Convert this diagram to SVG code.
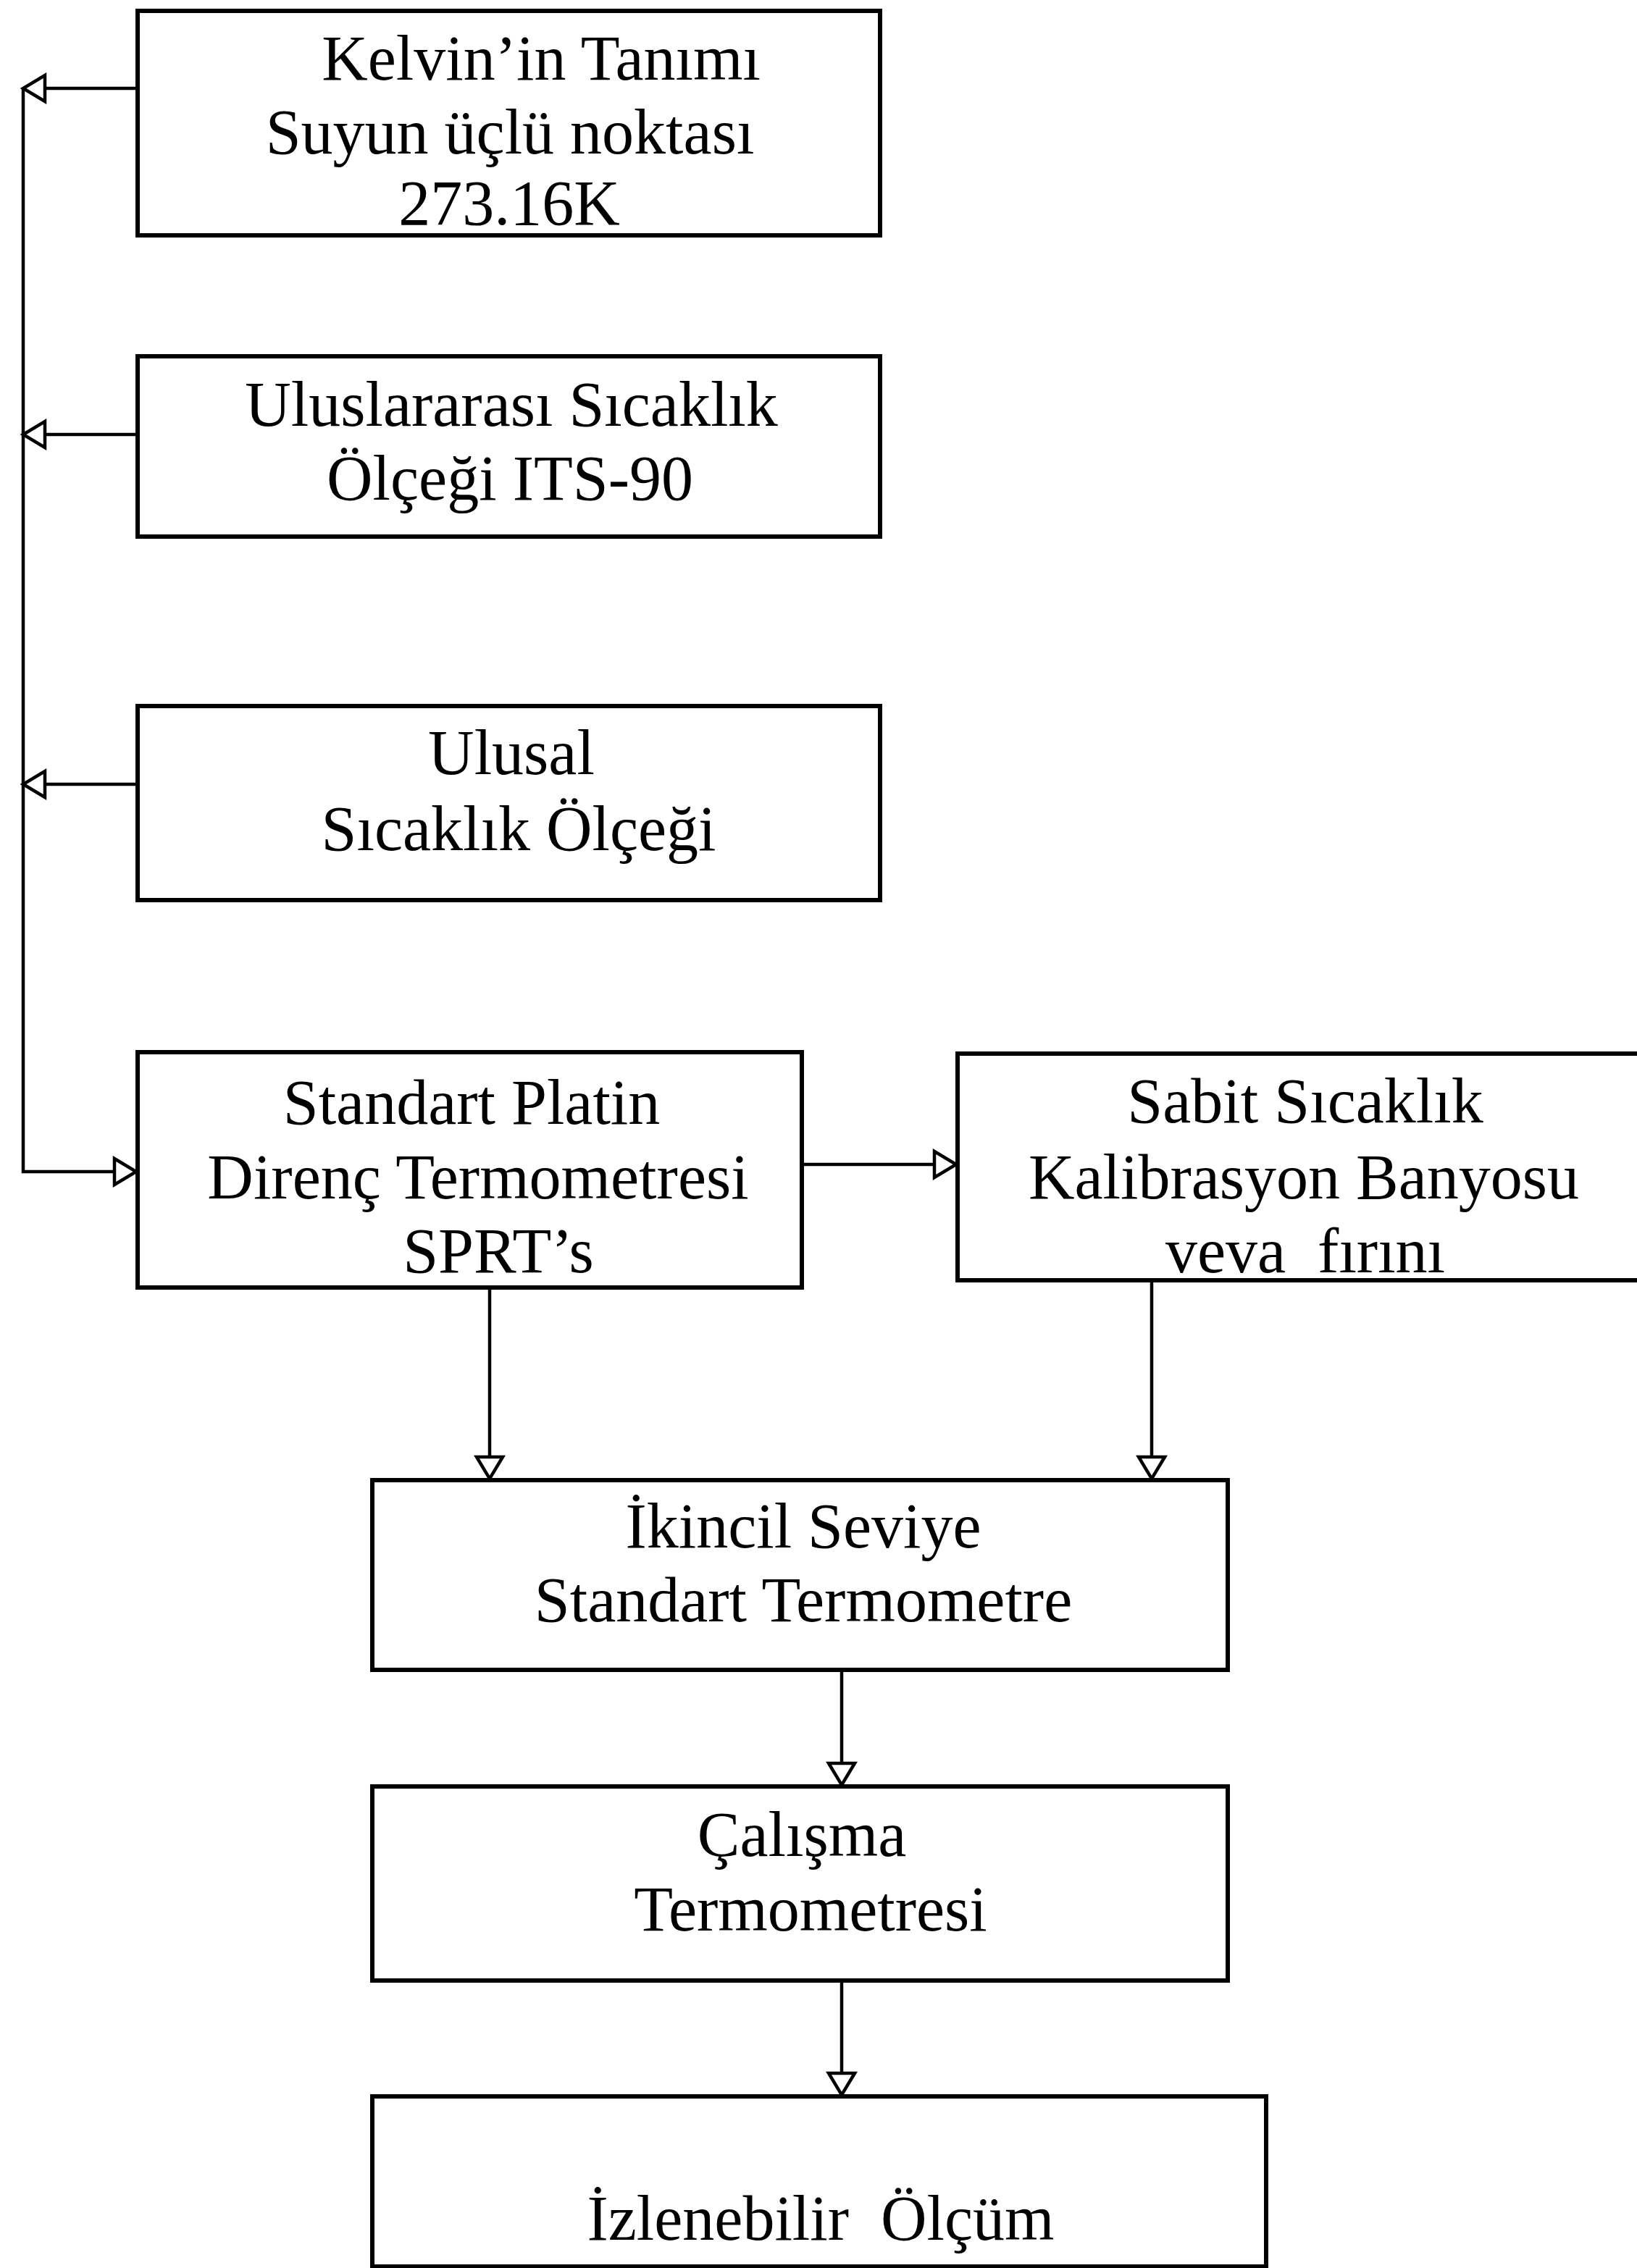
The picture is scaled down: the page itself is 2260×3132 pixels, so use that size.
<svg xmlns="http://www.w3.org/2000/svg" width="2260" height="3132" viewBox="0 0 2260 3132">
<style>
.box{fill:none;stroke:#000;stroke-width:6}
.t{font-family:"Liberation Serif","Times New Roman",serif;font-size:88px;fill:#000;text-anchor:middle;white-space:pre}
.c{fill:none;stroke:#000;stroke-width:4.5}
</style>
<defs>
<marker id="ah" markerUnits="userSpaceOnUse" markerWidth="40" markerHeight="44" refX="32" refY="20" orient="auto" overflow="visible">
<path d="M2,2 L32,20 L2,38 Z" fill="#fff" stroke="#000" stroke-width="4.5" stroke-linejoin="miter"/>
</marker>
</defs>
<rect width="2260" height="3132" fill="#fff"/>
<g id="connectors">
<path class="c" d="M190,122 H32" marker-end="url(#ah)"/>
<path class="c" d="M190,600 H32" marker-end="url(#ah)"/>
<path class="c" d="M190,1083 H32" marker-end="url(#ah)"/>
<path class="c" d="M32,122 V1618 H188" marker-end="url(#ah)"/>
<path class="c" d="M1107,1608 H1320" marker-end="url(#ah)"/>
<path class="c" d="M676,1778 V2042" marker-end="url(#ah)"/>
<path class="c" d="M1590,1768 V2042" marker-end="url(#ah)"/>
<path class="c" d="M1162,2306 V2465" marker-end="url(#ah)"/>
<path class="c" d="M1162,2735 V2893" marker-end="url(#ah)"/>
</g>
<g id="n1">
<rect class="box" x="190" y="15" width="1025" height="310"/>
<text class="t" x="747" y="110">Kelvin’in Tanımı</text>
<text class="t" x="704" y="212">Suyun üçlü noktası</text>
<text class="t" x="703" y="310">273.16K</text>
</g>
<g id="n2">
<rect class="box" x="190" y="492" width="1025" height="249"/>
<text class="t" x="706" y="588">Uluslararası Sıcaklık</text>
<text class="t" x="704" y="690">Ölçeği ITS-90</text>
</g>
<g id="n3">
<rect class="box" x="190" y="975" width="1025" height="268"/>
<text class="t" x="706" y="1069">Ulusal</text>
<text class="t" x="716" y="1174">Sıcaklık Ölçeği</text>
</g>
<g id="n4">
<rect class="box" x="190" y="1453" width="917" height="325"/>
<text class="t" x="651" y="1552">Standart Platin</text>
<text class="t" x="660" y="1655">Direnç Termometresi</text>
<text class="t" x="688" y="1757">SPRT’s</text>
</g>
<g id="n5">
<rect class="box" x="1322" y="1455" width="960" height="313"/>
<text class="t" x="1802" y="1550">Sabit Sıcaklık</text>
<text class="t" x="1800" y="1655">Kalibrasyon Banyosu</text>
<text class="t" x="1802" y="1757">veva  fırını</text>
</g>
<g id="n6">
<rect class="box" x="514" y="2044" width="1181" height="262"/>
<text class="t" x="1109" y="2137">İkincil Seviye</text>
<text class="t" x="1109" y="2239">Standart Termometre</text>
</g>
<g id="n7">
<rect class="box" x="514" y="2467" width="1181" height="268"/>
<text class="t" x="1107" y="2563">Çalışma</text>
<text class="t" x="1119" y="2666">Termometresi</text>
</g>
<g id="n8">
<rect class="box" x="514" y="2895" width="1234" height="235"/>
<text class="t" x="1133" y="3093">İzlenebilir  Ölçüm</text>
</g>
</svg>
